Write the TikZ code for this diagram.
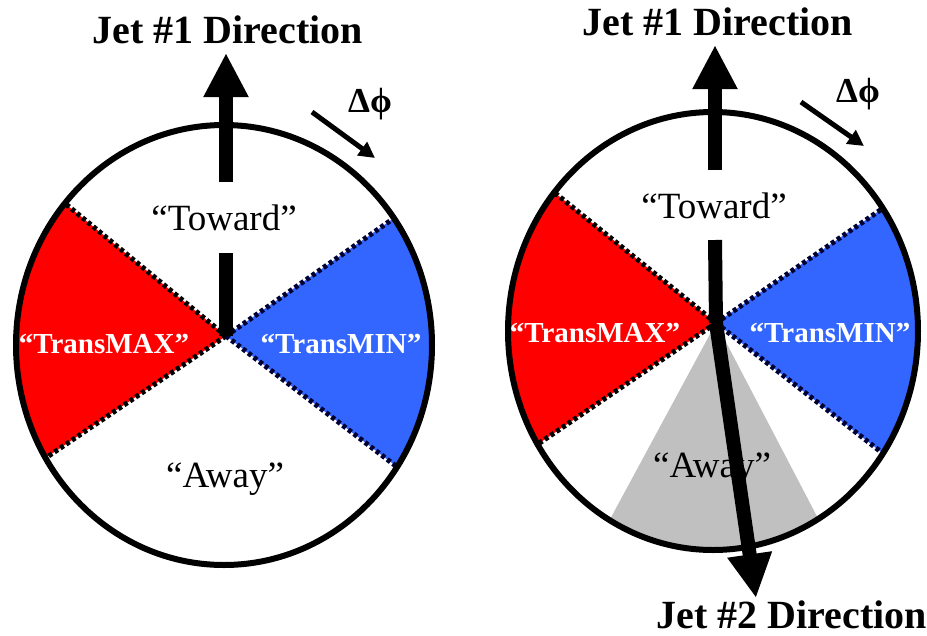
\documentclass[tikz,border=0pt]{standalone}
\usepackage{fontspec}
\setmainfont{Liberation Serif}
\usetikzlibrary{arrows.meta,calc}
\definecolor{tred}{RGB}{255,0,0}
\definecolor{tblue}{RGB}{51,102,255}
\definecolor{tgrey}{RGB}{192,192,192}
\begin{document}
\begin{tikzpicture}[x=1pt,y=-1pt,
  title/.style={font=\fontsize{40}{40}\selectfont\bfseries, anchor=base, inner sep=0pt},
  region/.style={font=\fontsize{37}{37}\selectfont, anchor=base, inner sep=0pt},
  trans/.style={font=\fontsize{29}{29}\selectfont\bfseries, text=white, anchor=base, inner sep=0pt},
  dphi/.style={font=\fontsize{35}{35}\selectfont\bfseries, anchor=base, inner sep=0pt},
  rim/.style={line width=6pt},
  border/.style={line width=5pt, dash pattern=on 4pt off 3pt},
  jet/.style={line width=14pt, -{Triangle[length=44pt,width=42pt]}},
  bar/.style={line width=14pt},
  small arrow/.style={line width=5pt, -{Triangle[length=16pt,width=16pt]}}
]
\useasboundingbox (0,0) rectangle (927,635);

% ---------------- Left diagram ----------------
\coordinate (CL) at (226,336);
\coordinate (LO) at (224,345);
\coordinate (LRu) at (67,205);
\coordinate (LRl) at (53,453);
\coordinate (LBu) at (387,223);
\coordinate (LBl) at (388,460);
\begin{scope}
  \clip (LO) ellipse [x radius=208, y radius=220];
  \fill[tred] (CL) -- ($(CL)!2!(LRu)$) -- ($(CL)!2!(LRl)$) -- cycle;
  \fill[tblue] (CL) -- ($(CL)!2!(LBu)$) -- ($(CL)!2!(LBl)$) -- cycle;
  \draw[border] (CL) -- ($(CL)!2!(LRu)$);
  \draw[border] (CL) -- ($(CL)!2!(LRl)$);
  \draw[border, black!80!blue] (CL) -- ($(CL)!2!(LBu)$);
  \draw[border, black!80!blue] (CL) -- ($(CL)!2!(LBl)$);
\end{scope}
\draw[rim] (LO) ellipse [x radius=208, y radius=220];

\node[title] (t1L) at (228,43) {Jet \#1 Direction};
\node[region] (towL) at (224,230) {“Toward”};
\node[region] (awayL) at (225,487) {“Away”};
\node[trans] (maxL) at (104,353) {“TransMAX”};
\node[trans] (minL) at (341,353) {“TransMIN”};
\node[dphi] (dpL) at (370,112) {Δϕ};

\coordinate (LbarTop) at (226,253);
\coordinate (LjetStart) at (226,182);
\coordinate (LjetTip) at (226,53);
\draw[bar] (CL) -- (LbarTop);
\draw[jet] (LjetStart) -- (LjetTip);
\coordinate (LdS) at (312,112);
\coordinate (LdE) at (375,158);
\draw[small arrow] (LdS) -- (LdE);

% ---------------- Right diagram ----------------
\coordinate (CR) at (716,323);
\coordinate (RO) at (713,331);
\coordinate (RRu) at (560,197);
\coordinate (RRl) at (541,442);
\coordinate (RBu) at (876,213);
\coordinate (RBl) at (876,448);
\coordinate (RGl) at (615,510);
\coordinate (RGr) at (810,503);
\begin{scope}
  \clip (RO) ellipse [x radius=205, y radius=219];
  \fill[tgrey] (CR) -- ($(CR)!2!(RGl)$) -- ($(CR)!2!(RGr)$) -- cycle;
  \fill[tred] (CR) -- ($(CR)!2!(RRu)$) -- ($(CR)!2!(RRl)$) -- cycle;
  \fill[tblue] (CR) -- ($(CR)!2!(RBu)$) -- ($(CR)!2!(RBl)$) -- cycle;
  \draw[border] (CR) -- ($(CR)!2!(RRu)$);
  \draw[border] (CR) -- ($(CR)!2!(RRl)$);
  \draw[border, black!80!blue] (CR) -- ($(CR)!2!(RBu)$);
  \draw[border, black!80!blue] (CR) -- ($(CR)!2!(RBl)$);
\end{scope}
\draw[rim] (RO) ellipse [x radius=205, y radius=219];

\node[title] (t1R) at (718,35) {Jet \#1 Direction};
\node[title] (t2R) at (792,628) {Jet \#2 Direction};
\node[region] (towR) at (714,218) {“Toward”};
\node[region] (awayR) at (712,477) {“Away”};
\node[trans] (maxR) at (595,342) {“TransMAX”};
\node[trans] (minR) at (830,342) {“TransMIN”};
\node[dphi] (dpR) at (858,102) {Δϕ};

\coordinate (RbarTop) at (715,240);
\coordinate (RjetStart) at (715,170);
\coordinate (RjetTip) at (715,45);
\draw[bar] (CR) -- (RbarTop);
\draw[jet] (RjetStart) -- (RjetTip);
\coordinate (Rjet2Tip) at (756,598);
\draw[jet] (CR) -- (Rjet2Tip);
\coordinate (RdS) at (801,102);
\coordinate (RdE) at (864,146);
\draw[small arrow] (RdS) -- (RdE);
\end{tikzpicture}
\end{document}
